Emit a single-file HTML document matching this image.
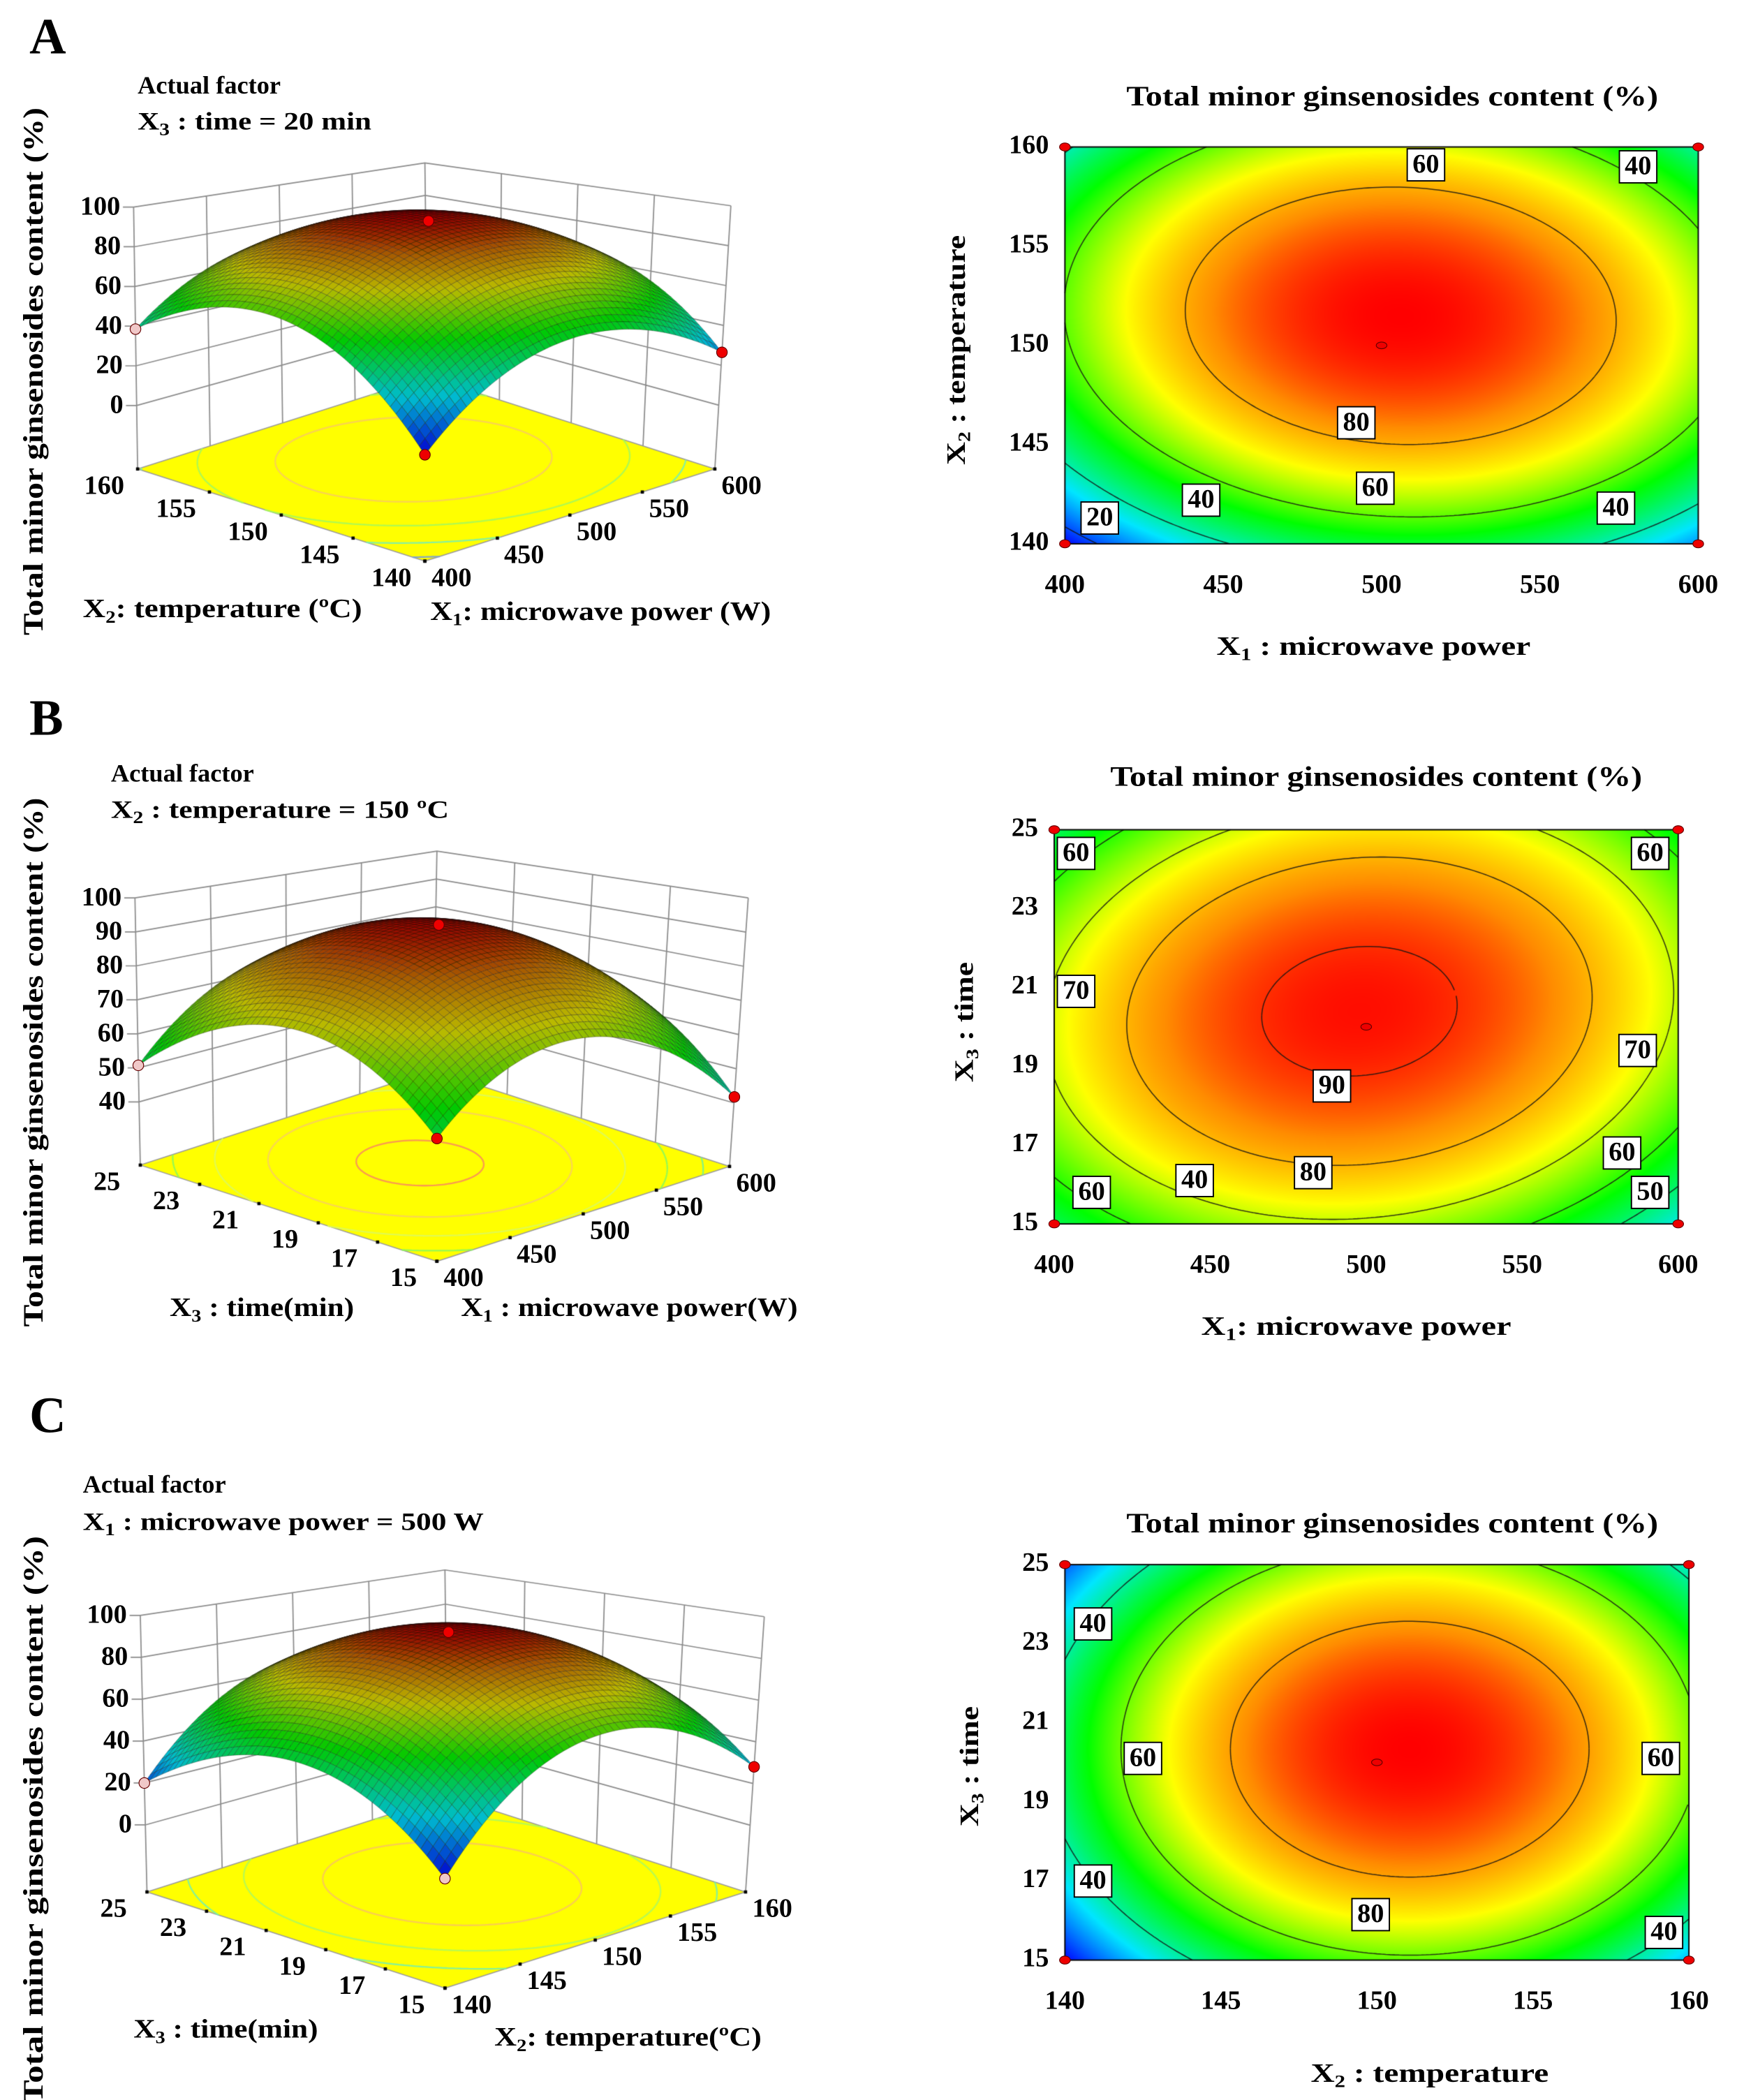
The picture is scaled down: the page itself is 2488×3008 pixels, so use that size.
<!DOCTYPE html>
<html><head><meta charset="utf-8"><style>
html,body{margin:0;padding:0;background:#fff}
#wrap{position:relative;width:2488px;height:3008px;overflow:hidden}
canvas,svg{position:absolute;left:0;top:0}
text{font-family:"Liberation Serif",serif;font-weight:bold;fill:#000}
</style></head><body>
<div id="wrap">
<canvas id="cv" width="2488" height="3008"></canvas>
<svg id="ov" width="2488" height="3008" viewBox="0 0 1300 1571.7">
<text x="22" y="40" font-size="38">A</text>
<text x="22" y="550" font-size="38">B</text>
<text x="22" y="1072" font-size="38">C</text>
<text x="103" y="70" font-size="19">Actual factor</text>
<text x="103" y="97" font-size="19" textLength="175" lengthAdjust="spacingAndGlyphs">X<tspan font-size="13" dy="4">3</tspan><tspan dy="-4"> : time = 20 min</tspan></text>
<text x="83" y="585" font-size="19">Actual factor</text>
<text x="83" y="612" font-size="19" textLength="253" lengthAdjust="spacingAndGlyphs">X<tspan font-size="13" dy="4">2</tspan><tspan dy="-4"> : temperature = 150 ºC</tspan></text>
<text x="62" y="1117" font-size="19">Actual factor</text>
<text x="62" y="1145" font-size="19" textLength="300" lengthAdjust="spacingAndGlyphs">X<tspan font-size="13" dy="4">1</tspan><tspan dy="-4"> : microwave power = 500 W</tspan></text>
<text transform="translate(32,278) rotate(-90)" text-anchor="middle" font-size="21" textLength="395" lengthAdjust="spacingAndGlyphs">Total minor ginsenosides content (%)</text>
<text transform="translate(32,795) rotate(-90)" text-anchor="middle" font-size="21" textLength="396" lengthAdjust="spacingAndGlyphs">Total minor ginsenosides content (%)</text>
<text transform="translate(32,1362) rotate(-90)" text-anchor="middle" font-size="21" textLength="425" lengthAdjust="spacingAndGlyphs">Total minor ginsenosides content (%)</text>
<text x="62" y="462" font-size="20" textLength="209" lengthAdjust="spacingAndGlyphs">X<tspan font-size="13" dy="4">2</tspan><tspan dy="-4">: temperature (ºC)</tspan></text>
<text x="322" y="464" font-size="20" textLength="255" lengthAdjust="spacingAndGlyphs">X<tspan font-size="13" dy="4">1</tspan><tspan dy="-4">: microwave power (W)</tspan></text>
<text x="127" y="985" font-size="20" textLength="138" lengthAdjust="spacingAndGlyphs">X<tspan font-size="13" dy="4">3</tspan><tspan dy="-4"> : time(min)</tspan></text>
<text x="345" y="985" font-size="20" textLength="252" lengthAdjust="spacingAndGlyphs">X<tspan font-size="13" dy="4">1</tspan><tspan dy="-4"> : microwave power(W)</tspan></text>
<text x="100" y="1525" font-size="20" textLength="138" lengthAdjust="spacingAndGlyphs">X<tspan font-size="13" dy="4">3</tspan><tspan dy="-4"> : time(min)</tspan></text>
<text x="370" y="1531" font-size="20" textLength="200" lengthAdjust="spacingAndGlyphs">X<tspan font-size="13" dy="4">2</tspan><tspan dy="-4">: temperature(ºC)</tspan></text>
<text x="1042" y="79" text-anchor="middle" font-size="21" textLength="398" lengthAdjust="spacingAndGlyphs">Total minor ginsenosides content (%)</text>
<text x="1030" y="588" text-anchor="middle" font-size="21" textLength="398" lengthAdjust="spacingAndGlyphs">Total minor ginsenosides content (%)</text>
<text x="1042" y="1147" text-anchor="middle" font-size="21" textLength="398" lengthAdjust="spacingAndGlyphs">Total minor ginsenosides content (%)</text>
<text transform="translate(722,262) rotate(-90)" text-anchor="middle" font-size="20" textLength="172" lengthAdjust="spacingAndGlyphs">X<tspan font-size="13" dy="4">2</tspan><tspan dy="-4"> : temperature</tspan></text>
<text transform="translate(728,765) rotate(-90)" text-anchor="middle" font-size="20" textLength="90" lengthAdjust="spacingAndGlyphs">X<tspan font-size="13" dy="4">3</tspan><tspan dy="-4"> : time</tspan></text>
<text transform="translate(732,1322) rotate(-90)" text-anchor="middle" font-size="20" textLength="90" lengthAdjust="spacingAndGlyphs">X<tspan font-size="13" dy="4">3</tspan><tspan dy="-4"> : time</tspan></text>
<text x="1028" y="490" text-anchor="middle" font-size="20" textLength="235" lengthAdjust="spacingAndGlyphs">X<tspan font-size="13" dy="4">1</tspan><tspan dy="-4"> : microwave power</tspan></text>
<text x="1015" y="999" text-anchor="middle" font-size="20" textLength="232" lengthAdjust="spacingAndGlyphs">X<tspan font-size="13" dy="4">1</tspan><tspan dy="-4">: microwave power</tspan></text>
<text x="1070" y="1558" text-anchor="middle" font-size="20" textLength="178" lengthAdjust="spacingAndGlyphs">X<tspan font-size="13" dy="4">2</tspan><tspan dy="-4"> : temperature</tspan></text>
<g id="dyn"></g>
</svg>
</div>
<script>
// quadratic model coefficients [b0, b1, b2, b12, b11, b22] in coded units
const coefA = [93, 4, 10, -2.5, -30, -33];
const coefB = [92, -1.25, 3.25, 3.75, -22, -20];
const coefC = [92, 8, 4, 0, -38, -30];
const levelsA = [20, 40, 60, 80];
const levelsB = [50, 60, 70, 80, 90];
const levelsC = [40, 60, 80];
const xTicksA = [400, 450, 500, 550, 600];
const yTicksA = [140, 145, 150, 155, 160];
const xTicksB = [400, 450, 500, 550, 600];
const yTicksB = [15, 17, 19, 21, 23, 25];
const xTicksC = [140, 145, 150, 155, 160];
const yTicksC = [15, 17, 19, 21, 23, 25];
const zTicksA = [0, 20, 40, 60, 80, 100];
const zTicksB = [40, 50, 60, 70, 80, 90, 100];
const zTicksC = [0, 20, 40, 60, 80, 100];
const colorRangeB = [22, 93];
const labelsA = [[514,159.1,60],[581,159,40],[492,146.1,80],[498,142.8,60],[443,142.2,40],[574,141.8,40],[411,141.3,20]];
const labelsB = [[407,24.4,60],[591,24.4,60],[407,20.9,70],[587,19.4,70],[489,18.5,90],[483,16.3,80],[445,16.1,40],[412,15.8,60],[582,16.8,60],[591,15.8,50]];
const labelsC = [[140.9,23.5,40],[142.5,20.1,60],[159.1,20.1,60],[140.9,17.0,40],[149.8,16.15,80],[159.2,15.7,40]];

const S = 2488/1300;
const cv = document.getElementById('cv');
const ctx = cv.getContext('2d');
const dyn = document.getElementById('dyn');
const NS = 'http://www.w3.org/2000/svg';
function model(c,a,b){return c[0]+c[1]*a+c[2]*b+c[3]*a*b+c[4]*a*a+c[5]*b*b;}
const stops=[[0,[0,0,255]],[0.25,[0,230,255]],[0.5,[0,255,0]],[0.72,[255,255,0]],[0.87,[255,140,0]],[1,[255,0,0]]];
function cmap(t){t=Math.max(0,Math.min(1,t));for(let i=1;i<stops.length;i++){if(t<=stops[i][0]){const s0=stops[i-1],s1=stops[i];const k=(t-s0[0])/(s1[0]-s0[0]);return [0,1,2].map(j=>s0[1][j]+k*(s1[1][j]-s0[1][j]));}}return stops[stops.length-1][1];}
function range(c){let mn=1e9,mx=-1e9;for(let i=0;i<=50;i++)for(let j=0;j<=50;j++){const v=model(c,-1+i/25,-1+j/25);mn=Math.min(mn,v);mx=Math.max(mx,v);}return [mn,mx];}
function march(c,level,n,cb){
  for(let i=0;i<n;i++)for(let j=0;j<n;j++){
    const a0=-1+2*i/n,a1=-1+2*(i+1)/n,b0=-1+2*j/n,b1=-1+2*(j+1)/n;
    const p00=model(c,a0,b0),p10=model(c,a1,b0),p11=model(c,a1,b1),p01=model(c,a0,b1);
    const pts=[];
    function cr(va,vb,xa,ya,xb,yb){if((va-level)*(vb-level)<0){const t=(level-va)/(vb-va);pts.push([xa+t*(xb-xa),ya+t*(yb-ya)]);}}
    cr(p00,p10,a0,b0,a1,b0);cr(p10,p11,a1,b0,a1,b1);cr(p11,p01,a1,b1,a0,b1);cr(p01,p00,a0,b1,a0,b0);
    if(pts.length>=2)cb(pts[0],pts[1]);
    if(pts.length===4)cb(pts[2],pts[3]);
  }
}
function addText(x,y,s,size,anchor,name){
  const t=document.createElementNS(NS,'text');
  t.setAttribute('x',x);t.setAttribute('y',y);t.setAttribute('font-size',size);
  t.setAttribute('text-anchor',anchor);t.setAttribute('dominant-baseline','middle');
  t.textContent=s;
  
  
  dyn.appendChild(t);return t;
}
function addDot(x,y,rx,ry,fill,name){
  const e=document.createElementNS(NS,'ellipse');
  e.setAttribute('cx',x);e.setAttribute('cy',y);e.setAttribute('rx',rx);e.setAttribute('ry',ry);
  e.setAttribute('fill',fill);e.setAttribute('stroke','#600');e.setAttribute('stroke-width','0.6');
  
  
  dyn.appendChild(e);
}

// ---------- contour plots ----------
function contour(p){
  const [x0,y0,x1,y1]=p.rect;const [mn,mx]=p.cr||range(p.coef);
  const X0=Math.round(x0*S),Y0=Math.round(y0*S),X1=Math.round(x1*S),Y1=Math.round(y1*S);
  const W=X1-X0,H=Y1-Y0;const img=ctx.createImageData(W,H);
  for(let py=0;py<H;py++){const b=1-2*(py+0.5)/H;for(let px=0;px<W;px++){const a=-1+2*(px+0.5)/W;const col=cmap((model(p.coef,a,b)-mn)/(mx-mn));const k=(py*W+px)*4;img.data[k]=col[0];img.data[k+1]=col[1];img.data[k+2]=col[2];img.data[k+3]=255;}}
  ctx.putImageData(img,X0,Y0);
  ctx.save();ctx.scale(S,S);
  const tx=a=>x0+(a+1)/2*(x1-x0), ty=b=>y1-(b+1)/2*(y1-y0);
  ctx.strokeStyle='rgba(20,20,20,0.85)';ctx.lineWidth=0.8;ctx.beginPath();
  p.levels.forEach(L=>march(p.coef,L,140,(q,r)=>{ctx.moveTo(tx(q[0]),ty(q[1]));ctx.lineTo(tx(r[0]),ty(r[1]));}));
  ctx.stroke();
  ctx.strokeStyle='#000';ctx.lineWidth=1;ctx.strokeRect(x0,y0,x1-x0,y1-y0);
  ctx.restore();
  const sx=v=>x0+(v-p.xr[0])/(p.xr[1]-p.xr[0])*(x1-x0), sy=v=>y1-(v-p.yr[0])/(p.yr[1]-p.yr[0])*(y1-y0);
  p.xt.forEach(v=>addText(sx(v),y1+32,String(v),20,'middle','x-tick-label'));
  p.yt.forEach(v=>addText(x0-12,sy(v),String(v),20,'end','y-tick-label'));
  p.labels.forEach(l=>{
    const cx=sx(l[0]),cy=sy(l[1]);
    const r=document.createElementNS(NS,'rect');
    r.setAttribute('x',cx-14);r.setAttribute('y',cy-12);r.setAttribute('width',28);r.setAttribute('height',24);
    r.setAttribute('fill','#fff');r.setAttribute('stroke','#000');r.setAttribute('stroke-width','1');
    
    
    dyn.appendChild(r);
    addText(cx,cy+1,String(l[2]),20,'middle','contour-label');
  });
  [[x0,y0],[x1,y0],[x0,y1],[x1,y1]].forEach(c=>addDot(c[0],c[1],4,3,'#e00','design-point'));
  addDot((x0+x1)/2,(y0+y1)/2,4,2.5,'#e00','center-point');
}
contour({coef:coefA,rect:[797,110,1271,407],xr:[400,600],yr:[140,160],xt:xTicksA,yt:yTicksA,levels:levelsA,labels:labelsA});
contour({coef:coefB,rect:[789,621,1256,916],xr:[400,600],yr:[15,25],xt:xTicksB,yt:yTicksB,levels:levelsB,labels:labelsB,cr:colorRangeB});
contour({coef:coefC,rect:[797,1171,1264,1467],xr:[140,160],yr:[15,25],xt:xTicksC,yt:yTicksC,levels:levelsC,labels:labelsC});

// ---------- 3D surfaces ----------
function surf(p){
  const f=p.floor,tp=p.top;
  function bil(c,u,v){return [0,1].map(k=>(1-u)*(1-v)*c.F[k]+u*(1-v)*c.R[k]+(1-u)*v*c.L[k]+u*v*c.B[k]);}
  function proj(u,v,z){const t=(z-p.z[0])/(p.z[1]-p.z[0]);const a=bil(f,u,v),b=bil(tp,u,v);return [a[0]+t*(b[0]-a[0]),a[1]+t*(b[1]-a[1])];}
  const [mn,mx]=p.cr||range(p.coef);
  ctx.save();ctx.scale(S,S);
  ctx.strokeStyle='#8a8a8a';ctx.lineWidth=0.9;ctx.beginPath();
  for(let k=0;k<=4;k++){const s=k/4;let a=proj(s,1,p.z[0]),b=proj(s,1,p.z[1]);ctx.moveTo(a[0],a[1]);ctx.lineTo(b[0],b[1]);a=proj(1,s,p.z[0]);b=proj(1,s,p.z[1]);ctx.moveTo(a[0],a[1]);ctx.lineTo(b[0],b[1]);}
  p.zt.concat([p.z[1]]).forEach(z=>{const a=proj(0,1,z),b=proj(1,1,z),c=proj(1,0,z);ctx.moveTo(a[0]-8,a[1]);ctx.lineTo(a[0],a[1]);ctx.lineTo(b[0],b[1]);ctx.lineTo(c[0],c[1]);});
  ctx.stroke();
  ctx.fillStyle='#ffff00';ctx.beginPath();[f.F,f.R,f.B,f.L].forEach((q,i)=>i?ctx.lineTo(q[0],q[1]):ctx.moveTo(q[0],q[1]));ctx.closePath();ctx.fill();
  ctx.strokeStyle='#999';ctx.lineWidth=0.8;ctx.stroke();
  p.levels.forEach(L=>{const c=cmap((L-mn)/(mx-mn));ctx.strokeStyle='rgba('+Math.round(c[0]*0.5+120)+','+Math.round(c[1]*0.5+120)+','+Math.round(c[2]*0.5+90)+',0.9)';ctx.lineWidth=1.2;ctx.beginPath();
    march(p.coef,L,80,(q,r)=>{const a=proj((q[0]+1)/2,(q[1]+1)/2,p.z[0]),b=proj((r[0]+1)/2,(r[1]+1)/2,p.z[0]);ctx.moveTo(a[0],a[1]);ctx.lineTo(b[0],b[1]);});ctx.stroke();});
  const N=50,cells=[];
  for(let i=0;i<N;i++)for(let j=0;j<N;j++)cells.push([i,j]);
  cells.sort((A,B)=>(B[0]+B[1])-(A[0]+A[1]));
  ctx.lineWidth=0.35;ctx.strokeStyle='rgba(0,0,0,0.45)';
  cells.forEach(([i,j])=>{
    const u0=i/N,u1=(i+1)/N,v0=j/N,v1=(j+1)/N;
    const z=(u,v)=>model(p.coef,2*u-1,2*v-1);
    const pts=[proj(u0,v0,z(u0,v0)),proj(u1,v0,z(u1,v0)),proj(u1,v1,z(u1,v1)),proj(u0,v1,z(u0,v1))];
    const zc=z((u0+u1)/2,(v0+v1)/2);const c=cmap((zc-mn)/(mx-mn));const sh=0.82-0.25*Math.pow((zc-mn)/(mx-mn),3);
    ctx.fillStyle='rgb('+Math.round(c[0]*sh)+','+Math.round(c[1]*sh)+','+Math.round(c[2]*sh)+')';
    ctx.beginPath();pts.forEach((q,k)=>k?ctx.lineTo(q[0],q[1]):ctx.moveTo(q[0],q[1]));ctx.closePath();ctx.fill();ctx.stroke();
  });
  ctx.fillStyle='#000';
  p.ut.forEach((v,k)=>{const q=proj(k/(p.ut.length-1),0,p.z[0]);ctx.fillRect(q[0]-1.2,q[1]-1.2,2.4,2.4);});
  p.vt.forEach((v,k)=>{const q=proj(0,k/(p.vt.length-1),p.z[0]);ctx.fillRect(q[0]-1.2,q[1]-1.2,2.4,2.4);});
  ctx.restore();
  p.zt.forEach(z=>{const q=proj(0,1,z);addText(q[0]-10,q[1]+1,String(z),20,'end','z-tick-label');});
  p.ut.forEach((v,k)=>{const q=proj(k/(p.ut.length-1),0,p.z[0]);addText(q[0]+20,q[1]+14,String(v),20,'middle','u-tick-label');});
  p.vt.forEach((v,k)=>{const q=proj(0,k/(p.vt.length-1),p.z[0]);addText(q[0]-25,q[1]+14,String(v),20,'middle','v-tick-label');});
  p.pts.forEach(d=>{const q=proj(d[0],d[1],model(p.coef,2*d[0]-1,2*d[1]-1));addDot(q[0],q[1],4,4,d[2],'design-point-3d');});
}
surf({coef:coefA,z:[-32,100],zt:zTicksA,ut:xTicksA,vt:yTicksA.slice(),levels:levelsA,
  floor:{F:[318,420],R:[535,351],L:[103,351],B:[320,282]},top:{F:[318,189],R:[547,154],L:[100,155],B:[318,122]},
  pts:[[0.5,0.5,'#e00'],[0,0,'#e00'],[0,1,'#f0c8c8'],[1,0,'#e00']]});
surf({coef:coefB,z:[21.4,100],zt:zTicksB,ut:xTicksB,vt:yTicksB,levels:levelsB,cr:colorRangeB,
  floor:{F:[327,944],R:[546,873],L:[105,872],B:[324,801]},top:{F:[327,706],R:[560,672],L:[101,672],B:[327,637]},
  pts:[[0.5,0.5,'#e00'],[0,0,'#e00'],[0,1,'#f0c8c8'],[1,0,'#e00']]});
surf({coef:coefC,z:[-32,100],zt:zTicksC,ut:xTicksC,vt:yTicksC,levels:levelsC,
  floor:{F:[333,1488],R:[558,1416],L:[110,1416],B:[335,1344]},top:{F:[333,1242],R:[572,1210],L:[105,1209],B:[333,1175]},
  pts:[[0.5,0.5,'#e00'],[0,0,'#f0c8c8'],[0,1,'#f0c8c8'],[1,0,'#e00']]});
</script>
</body></html>
